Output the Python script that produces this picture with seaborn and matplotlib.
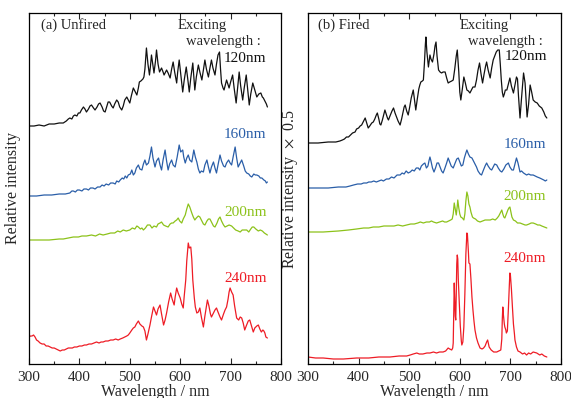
import matplotlib
matplotlib.use("Agg")
import matplotlib.pyplot as plt
from matplotlib.ticker import MultipleLocator
import pandas as pd
import seaborn as sns

# ---------------- (a) Unfired ----------------
unf_120_nm = [300, 310, 320, 330, 340, 350, 360, 368, 374, 378, 381, 385, 388, 391, 395, 398, 401, 404,
              408, 411, 414, 418, 421, 424, 428, 431, 435, 438, 441, 445, 448, 451, 454, 457, 460, 464,
              467, 470, 474, 477, 480, 484, 487, 490, 494, 497, 500, 503, 507, 510, 514, 517, 519, 522,
              524, 526, 528, 530, 533, 536, 539, 541, 543, 546, 548, 551, 553, 556, 559, 561, 563, 566,
              568, 571, 573, 576, 580, 583, 586, 589, 593, 595, 598, 601, 605, 608, 612, 615, 618, 621,
              625, 627, 629, 632, 636, 639, 643, 646, 649, 652, 656, 659, 662, 665, 669, 672, 675, 678,
              680, 682, 685, 687, 690, 692, 695, 697, 700, 704, 707, 711, 714, 717, 720, 724, 727, 731,
              734, 737, 740, 744, 748, 752, 756, 760, 763, 765, 768, 771, 773]
unf_120_i = [238, 238, 239, 238, 240, 240, 241, 241, 243, 245, 246, 245, 248, 249, 248, 251, 251, 254,
             257, 255, 252, 255, 258, 259, 256, 254, 257, 260, 261, 257, 253, 252, 257, 262, 262, 258,
             256, 260, 264, 262, 257, 254, 258, 264, 267, 264, 261, 268, 276, 273, 269, 276, 282, 283,
             284, 285, 287, 295, 316, 300, 289, 298, 309, 298, 291, 303, 314, 300, 292, 294, 296, 292,
             289, 292, 294, 291, 286, 295, 302, 292, 281, 292, 304, 290, 272, 284, 297, 285, 272, 286,
             301, 288, 274, 287, 299, 292, 284, 294, 304, 295, 287, 296, 304, 296, 289, 300, 309, 312,
             295, 281, 276, 274, 280, 284, 279, 276, 282, 289, 276, 261, 276, 292, 278, 264, 276, 289,
             274, 259, 270, 281, 274, 267, 270, 271, 267, 266, 263, 260, 257]

unf_160_nm = [300, 315, 330, 345, 360, 372, 381, 385, 388, 392, 396, 400, 405, 409, 414, 418, 422, 427,
              431, 436, 441, 445, 449, 453, 458, 462, 467, 471, 474, 478, 481, 485, 488, 491, 494, 497,
              501, 504, 507, 510, 513, 517, 520, 524, 527, 530, 533, 537, 540, 543, 546, 550, 553, 557,
              560, 563, 566, 570, 573, 576, 579, 583, 586, 590, 594, 598, 601, 605, 607, 610, 613, 616,
              619, 623, 625, 627, 630, 633, 636, 639, 642, 646, 649, 653, 656, 659, 662, 666, 669, 672,
              675, 679, 682, 686, 689, 692, 696, 699, 702, 705, 709, 712, 715, 719, 722, 726, 729, 732,
              736, 739, 742, 746, 749, 752, 756, 759, 762, 766, 769, 771, 773]
unf_160_i = [168, 168, 169, 169, 170, 170, 171, 173, 173, 172, 174, 174, 173, 175, 175, 174, 176, 176,
             175, 177, 177, 179, 178, 180, 179, 181, 181, 180, 183, 182, 184, 186, 185, 188, 186, 189,
             190, 194, 189, 191, 196, 199, 195, 194, 200, 204, 199, 201, 208, 217, 206, 197, 203, 206,
             199, 194, 204, 214, 203, 194, 200, 204, 199, 197, 207, 219, 212, 214, 207, 201, 206, 209,
             204, 202, 208, 214, 207, 202, 195, 191, 193, 192, 199, 204, 197, 191, 197, 202, 196, 191,
             199, 209, 203, 198, 197, 201, 204, 201, 199, 207, 217, 206, 197, 201, 204, 198, 193, 191,
             190, 188, 187, 190, 189, 189, 188, 186, 186, 184, 183, 181, 182]

unf_200_nm = [300, 320, 340, 360, 368, 378, 388, 398, 405, 414, 424, 432, 440, 447, 455, 462, 470, 476,
              481, 487, 493, 500, 505, 510, 514, 517, 521, 524, 527, 531, 535, 540, 544, 548, 553, 556,
              560, 563, 567, 571, 576, 580, 583, 586, 590, 593, 596, 599, 603, 606, 610, 613, 616, 619,
              623, 626, 629, 632, 636, 639, 643, 646, 649, 653, 656, 659, 663, 666, 669, 673, 676, 679,
              682, 686, 689, 693, 697, 702, 706, 710, 715, 719, 723, 727, 732, 736, 740, 743, 746, 750,
              755, 759, 763, 767, 770, 773]
unf_200_i = [124, 124, 124, 125, 125, 126, 127, 127, 128, 128, 129, 128, 130, 129, 130, 131, 131, 133,
             132, 134, 133, 134, 136, 135, 138, 137, 135, 136, 134, 136, 139, 139, 136, 138, 137, 140,
             141, 142, 139, 138, 137, 140, 141, 141, 143, 144, 146, 143, 141, 145, 149, 155, 160, 157,
             151, 147, 144, 146, 148, 147, 143, 140, 139, 143, 145, 145, 141, 138, 137, 141, 145, 147,
             143, 139, 137, 138, 139, 138, 136, 134, 133, 132, 134, 134, 134, 132, 135, 137, 137, 135,
             133, 134, 133, 131, 130, 129]

unf_240_nm = [300, 303, 306, 309, 312, 315, 318, 322, 326, 330, 334, 338, 342, 346, 350, 354, 358, 362,
              366, 370, 374, 378, 381, 386, 390, 395, 400, 405, 410, 414, 419, 424, 429, 434, 439, 443,
              447, 452, 457, 462, 467, 472, 477, 481, 486, 490, 494, 497, 500, 504, 507, 510, 513, 517,
              520, 524, 527, 530, 533, 536, 540, 543, 547, 550, 553, 556, 560, 563, 567, 570, 573, 577,
              581, 584, 588, 590, 593, 596, 600, 603, 606, 608, 611, 613, 616, 618, 621, 623, 625, 628,
              630, 633, 636, 639, 642, 646, 649, 652, 654, 657, 660, 662, 666, 669, 672, 675, 679, 682,
              686, 689, 692, 695, 697, 699, 702, 705, 708, 712, 716, 719, 722, 725, 728, 731, 735, 738,
              741, 745, 748, 752, 755, 758, 761, 764, 766, 768, 770, 773]
unf_240_i = [27, 28, 28, 29, 27, 24, 23, 21, 20, 20, 18, 18, 17, 16, 16, 15, 14, 13,
             14, 14, 15, 16, 16, 16, 17, 17, 18, 18, 19, 19, 20, 20, 21, 22, 21, 22,
             22, 23, 23, 24, 24, 25, 24, 25, 26, 27, 28, 29, 31, 34, 36, 37, 40, 43,
             40, 38, 37, 33, 24, 30, 39, 47, 57, 53, 49, 55, 59, 50, 39, 44, 51, 62,
             71, 65, 59, 67, 76, 71, 66, 60, 56, 68, 84, 103, 121, 116, 117, 105, 84, 66,
             57, 51, 52, 56, 47, 37, 48, 58, 64, 58, 50, 47, 51, 54, 56, 52, 47, 44,
             50, 54, 57, 65, 72, 76, 72, 69, 58, 46, 44, 47, 46, 41, 34, 38, 43, 44,
             39, 32, 36, 38, 39, 35, 32, 34, 33, 31, 27, 26]

# ---------------- (b) Fired ----------------
fir_120_nm = [300, 320, 340, 355, 363, 368, 372, 376, 380, 384, 388, 393, 396, 400, 403, 406, 409, 411,
              413, 416, 419, 422, 426, 429, 432, 435, 437, 440, 442, 444, 447, 450, 452, 455, 457, 459,
              462, 466, 469, 472, 475, 478, 480, 482, 485, 488, 490, 492, 495, 498, 501, 504, 508, 510,
              513, 516, 519, 521, 523, 526, 528, 530, 532, 533, 535, 538, 540, 541, 543, 546, 549, 551,
              553, 555, 558, 561, 564, 567, 571, 574, 577, 580, 584, 587, 590, 593, 595, 598, 600, 602,
              605, 608, 611, 614, 617, 620, 623, 626, 630, 633, 636, 639, 642, 645, 648, 651, 653, 656,
              660, 663, 666, 669, 672, 675, 678, 680, 682, 684, 686, 688, 690, 693, 696, 699, 702, 706,
              709, 712, 714, 716, 719, 722, 726, 729, 733, 736, 739, 742, 745, 749, 753, 757, 762, 766,
              769, 772]
fir_120_i = [221, 221, 222, 222, 223, 224, 225, 227, 227, 229, 231, 232, 235, 236, 238, 239, 242, 244,
             246, 241, 236, 238, 241, 242, 245, 249, 251, 245, 240, 239, 244, 250, 254, 249, 246, 244,
             248, 253, 256, 251, 247, 243, 241, 239, 245, 252, 257, 259, 253, 249, 257, 266, 274, 266,
             254, 265, 275, 279, 282, 283, 284, 300, 320, 327, 312, 297, 305, 309, 305, 302, 310, 318,
             322, 308, 294, 292, 291, 292, 292, 286, 281, 282, 283, 284, 295, 308, 314, 292, 272, 264,
             275, 287, 281, 274, 273, 271, 274, 277, 277, 284, 294, 301, 290, 281, 290, 298, 302, 294,
             286, 296, 304, 308, 312, 314, 314, 300, 284, 272, 267, 270, 274, 274, 280, 286, 278, 271,
             279, 287, 285, 268, 246, 266, 291, 281, 247, 260, 279, 272, 264, 262, 261, 258, 256, 252,
             248, 246]

fir_160_nm = [300, 320, 340, 360, 375, 383, 390, 398, 405, 410, 416, 420, 425, 430, 435, 440, 445, 449,
              455, 460, 465, 470, 476, 482, 486, 490, 494, 498, 502, 506, 510, 514, 518, 521, 524, 528,
              531, 534, 537, 539, 541, 543, 546, 549, 552, 555, 558, 561, 564, 567, 570, 574, 577, 580,
              583, 587, 590, 594, 597, 600, 603, 606, 609, 612, 614, 617, 620, 624, 627, 630, 633, 636,
              640, 643, 646, 650, 653, 656, 660, 663, 666, 669, 673, 676, 680, 683, 687, 691, 696, 699,
              703, 706, 709, 712, 715, 719, 722, 726, 729, 732, 736, 740, 745, 749, 753, 758, 762, 766,
              769, 772]
fir_160_i = [176, 176, 176, 177, 177, 178, 179, 180, 180, 181, 181, 182, 182, 183, 182, 183, 184, 183,
             185, 185, 187, 186, 189, 189, 191, 190, 193, 191, 192, 194, 193, 196, 196, 194, 198, 200,
             201, 196, 198, 203, 207, 203, 196, 192, 196, 201, 201, 197, 193, 191, 195, 201, 206, 202,
             198, 196, 200, 205, 206, 202, 198, 199, 206, 211, 214, 210, 207, 206, 203, 200, 197, 193,
             190, 189, 193, 198, 201, 198, 195, 194, 197, 200, 199, 196, 193, 192, 195, 199, 201, 197,
             194, 194, 200, 206, 201, 192, 193, 191, 190, 189, 190, 189, 189, 188, 187, 186, 185, 184,
             183, 184]

fir_200_nm = [300, 330, 360, 380, 396, 410, 420, 429, 440, 450, 462, 470, 478, 487, 495, 503, 510, 517,
              522, 528, 534, 540, 544, 548, 554, 560, 566, 570, 574, 578, 582, 585, 587, 589, 591, 593,
              595, 596, 598, 600, 602, 605, 608, 610, 612, 614, 616, 618, 620, 622, 625, 627, 631, 635,
              640, 645, 650, 655, 660, 665, 670, 674, 677, 680, 683, 685, 687, 689, 692, 695, 697, 699,
              701, 703, 706, 710, 714, 719, 724, 729, 732, 737, 741, 745, 750, 754, 758, 762, 767, 772]
fir_200_i = [132, 132, 133, 134, 135, 136, 136, 137, 137, 138, 138, 138, 139, 138, 139, 140, 140, 141,
             142, 141, 142, 142, 143, 142, 141, 142, 143, 142, 142, 143, 144, 145, 150, 161, 155, 149,
             158, 164, 156, 150, 147, 146, 144, 150, 163, 172, 168, 160, 157, 152, 147, 146, 145, 143,
             142, 143, 144, 144, 144, 145, 144, 146, 148, 151, 154, 150, 147, 146, 150, 154, 156, 157,
             152, 147, 144, 143, 141, 141, 140, 139, 139, 140, 141, 141, 140, 139, 139, 138, 137, 136]

fir_240_nm = [300, 315, 330, 350, 370, 396, 420, 440, 462, 480, 495, 502, 508, 515, 520, 527, 535, 541,
              548, 554, 560, 567, 572, 577, 580, 584, 586, 587, 588, 589, 590, 591, 592, 593, 594, 595,
              596, 597, 599, 601, 603, 604, 606, 608, 610, 612, 614, 615, 617, 618, 620, 622, 624, 626,
              628, 630, 633, 636, 640, 644, 647, 650, 653, 655, 658, 662, 667, 673, 677, 681, 683, 684,
              685, 686, 688, 689, 691, 692, 694, 696, 698, 699, 700, 702, 704, 706, 708, 709, 712, 715,
              719, 724, 728, 732, 736, 740, 745, 752, 758, 762, 767, 772]
fir_240_i = [7, 6, 6, 5, 5, 6, 6, 7, 7, 8, 8, 9, 10, 11, 10, 10, 11, 11,
             12, 11, 12, 12, 13, 16, 15, 14, 16, 21, 50, 81, 65, 48, 44, 70, 100, 109,
             105, 85, 61, 38, 23, 19, 22, 37, 70, 110, 131, 130, 112, 101, 100, 85, 67, 54,
             43, 34, 26, 21, 16, 15, 16, 18, 22, 24, 17, 14, 12, 12, 13, 14, 25, 45,
             57, 50, 40, 37, 34, 31, 33, 55, 80, 91, 89, 75, 57, 40, 30, 24, 17, 13,
             12, 10, 11, 9, 11, 10, 12, 11, 9, 10, 8, 7]

labels = ["120nm", "160nm", "200nm", "240nm"]
colors = ["#111111", "#2a5ea8", "#8cc21a", "#ee1c25"]

panels = {
    "a": [(unf_120_nm, unf_120_i), (unf_160_nm, unf_160_i), (unf_200_nm, unf_200_i), (unf_240_nm, unf_240_i)],
    "b": [(fir_120_nm, fir_120_i), (fir_160_nm, fir_160_i), (fir_200_nm, fir_200_i), (fir_240_nm, fir_240_i)],
}

sns.set_style("ticks")
plt.rcParams["font.family"] = ["Liberation Serif", "DejaVu Serif"]
plt.rcParams["mathtext.fontset"] = "stix"

fig = plt.figure(figsize=(5.71, 3.98), dpi=100)
ax_a = fig.add_axes([29 / 571, 34 / 398, 252 / 571, 351 / 398])
ax_b = fig.add_axes([308 / 571, 34 / 398, 253 / 571, 351 / 398])


def draw_panel(ax, series):
    for (nm, inten), col in zip(series, colors):
        df = pd.DataFrame({"wavelength": nm, "intensity": inten})
        sns.lineplot(data=df, x="wavelength", y="intensity", ax=ax, color=col,
                     lw=0.9, estimator=None, sort=False)
    ax.set_xlim(300, 800)
    ax.set_ylim(0, 351)
    ax.set_yticks([])
    ax.xaxis.set_major_locator(MultipleLocator(100))
    ax.xaxis.set_minor_locator(MultipleLocator(50))
    ax.tick_params(axis="x", which="both", direction="in", top=True, labelsize=11, pad=5)
    ax.tick_params(axis="x", which="major", length=4, width=0.8)
    ax.tick_params(axis="x", which="minor", length=2.5, width=0.8)
    for s in ax.spines.values():
        s.set_linewidth(0.9)
        s.set_color("black")
    ax.set_xlabel("Wavelength / nm", fontsize=11.5, labelpad=0)


draw_panel(ax_a, panels["a"])
draw_panel(ax_b, panels["b"])

ax_a.set_ylabel("Relative intensity", fontsize=11.5, labelpad=6)
ax_b.set_ylabel("Relative intensity  $\\times$  0.5", fontsize=11.5, labelpad=6)

fs = 10.5
# panel titles and header text
ax_a.text(324, 339, "(a) Unfired", fontsize=fs, va="center", ha="left")
ax_b.text(320, 339, "(b) Fired", fontsize=fs, va="center", ha="left")
for ax, xe in [(ax_a, 594), (ax_b, 599)]:
    ax.text(xe, 339, "Exciting", fontsize=fs, va="center", ha="left")
    ax.text(xe + 18, 322, "wavelength :", fontsize=fs, va="center", ha="left")

# series labels (x in nm, height in intensity units)
label_pos_a = [(771, 305), (771, 229), (771, 152), (771, 85)]
label_pos_b = [(773, 307), (771, 219), (771, 167), (771, 105)]
for ax, pos in [(ax_a, label_pos_a), (ax_b, label_pos_b)]:
    for (x, y), lab, col in zip(pos, labels, colors):
        ax.text(x, y, lab, fontsize=11, color=col, va="center", ha="right")

fig.savefig("out.png", dpi=100)
